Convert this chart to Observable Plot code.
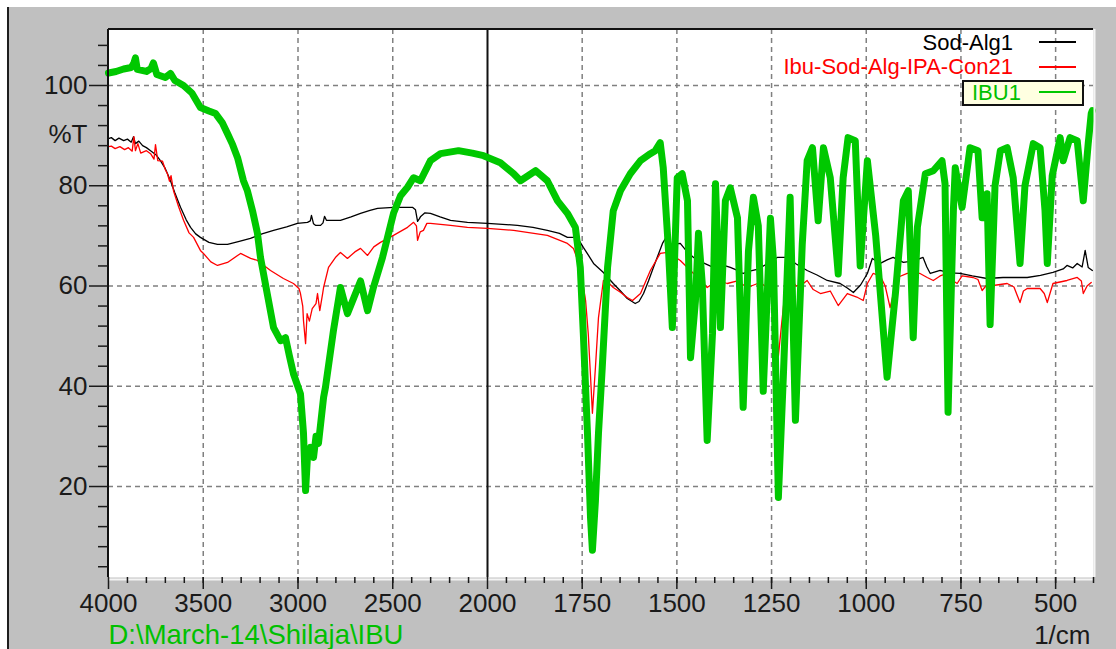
<!DOCTYPE html>
<html><head><meta charset="utf-8">
<script src="https://cdn.jsdelivr.net/npm/d3@7"></script>
<script src="https://cdn.jsdelivr.net/npm/@observablehq/plot@0.6"></script>
<style>
html,body{margin:0;padding:0;background:#fff;width:1116px;height:649px;overflow:hidden;font-family:"Liberation Sans",Arial,sans-serif;}
#panel{position:absolute;left:7px;top:7px;width:1109px;height:642px;background:#c0c0c0;border-left:2px solid #1e1e1e;box-sizing:border-box;}
#chart{position:absolute;left:0;top:0;}
#legend{position:absolute;left:0;top:0;width:1116px;height:649px;pointer-events:none;}
.lg{position:absolute;font-size:22px;line-height:24px;white-space:nowrap;}
.sw{position:absolute;height:2px;}
.box{position:absolute;background:#ffffe1;border:2px solid #111;box-sizing:border-box;}
</style></head><body>
<div id="panel"></div>
<div id="chart"></div>
<div id="legend"></div>
<script>
// ---- scale breaks and ticks ----
const wavenumberBreaks = [4000, 2000, 400];
const xMajorTicks = [4000, 3500, 3000, 2500, 2000, 1750, 1500, 1250, 1000, 750, 500];
const xGridTicks = [3500, 3000, 2500, 1750, 1500, 1250, 1000, 750, 500];
const yMajorTicks = [100, 80, 60, 40, 20];
const yDomain = [1.85, 111.17];
const xMinorTicks = [...d3.range(3900, 2000, -100), ...d3.range(1950, 399, -50)];
const yMinorTicks = d3.range(4, 112, 4).filter(v => v % 20 !== 0);

// ---- series ----
const seriesNames = ["Sod-Alg1", "Ibu-Sod-Alg-IPA-Con21", "IBU1"];
const seriesColors = ["#000000", "#ff0000", "#00c800"];

const sodAlg1 = [[4000,89.4],[3985,89.6],[3965,89.0],[3945,89.5],[3920,89.0],[3900,89.3],[3880,88.7],[3868,89.8],[3858,88.4],[3840,88.9],[3820,88.0],[3800,87.6],[3778,87.0],[3750,86.2],[3726,85.0],[3700,83.4],[3673,81.0],[3650,78.6],[3620,75.7],[3590,73.2],[3567,71.7],[3540,70.4],[3515,69.7],[3470,68.7],[3425,68.3],[3372,68.3],[3310,68.9],[3251,69.5],[3190,70.4],[3129,71.1],[3060,71.8],[3003,72.5],[2950,72.7],[2935,73.0],[2929,74.1],[2918,72.4],[2908,72.1],[2881,72.1],[2868,72.6],[2860,73.9],[2850,73.1],[2776,73.1],[2720,73.8],[2670,74.5],[2620,75.1],[2580,75.5],[2496,75.7],[2396,75.7],[2380,75.2],[2369,72.9],[2360,73.4],[2354,73.8],[2330,74.6],[2301,74.5],[2250,73.8],[2195,73.1],[2106,72.7],[2000,72.5],[1921,72.1],[1880,71.7],[1842,71.1],[1810,70.5],[1789,69.7],[1763,69.7],[1747,67.7],[1735,66.3],[1720,64.5],[1694,62.7],[1668,60.5],[1650,59.1],[1631,57.5],[1610,56.5],[1600,56.9],[1588,58.5],[1575,61.0],[1562,63.7],[1548,66.5],[1538,68.5],[1530,69.5],[1515,68.3],[1491,68.5],[1475,67.0],[1456,65.7],[1430,64.6],[1404,63.7],[1380,64.2],[1359,63.7],[1340,63.1],[1325,62.5],[1305,63.0],[1288,63.3],[1260,64.5],[1235,65.7],[1208,65.7],[1185,64.4],[1156,63.1],[1130,62.2],[1103,61.1],[1069,60.5],[1050,59.6],[1034,58.7],[1015,60.2],[997,62.5],[984,65.5],[963,64.5],[945,65.2],[929,65.7],[902,64.7],[875,65.0],[850,65.7],[840,63.8],[831,62.5],[805,63.1],[780,62.6],[752,62.5],[720,62.0],[681,61.5],[639,61.7],[575,61.7],[540,62.1],[507,62.7],[480,63.4],[470,64.1],[455,63.6],[443,64.5],[430,63.8],[422,67.1],[414,63.7],[403,63.1]];

const ibuSodAlgIpaCon21 = [[4000,87.8],[3985,87.9],[3965,87.4],[3940,87.8],[3915,87.2],[3895,87.6],[3875,86.9],[3866,89.8],[3858,87.0],[3845,88.4],[3830,86.5],[3800,87.0],[3778,86.4],[3760,85.3],[3752,88.2],[3740,85.0],[3715,84.9],[3700,83.2],[3689,82.4],[3678,80.9],[3670,82.0],[3657,79.0],[3630,75.8],[3604,73.1],[3575,70.6],[3551,69.7],[3515,67.1],[3499,66.5],[3460,64.8],[3425,64.1],[3372,64.7],[3303,66.5],[3250,65.5],[3214,65.1],[3145,63.1],[3077,61.5],[3024,60.5],[2995,59.5],[2987,58.5],[2975,56.0],[2971,53.1],[2960,48.5],[2952,54.5],[2940,53.0],[2925,55.5],[2905,56.5],[2897,58.5],[2885,55.1],[2870,58.5],[2865,59.7],[2839,63.7],[2800,65.8],[2776,66.7],[2739,65.5],[2700,66.8],[2670,67.5],[2633,66.1],[2600,67.8],[2565,68.7],[2496,70.1],[2422,71.7],[2390,72.7],[2375,72.0],[2369,69.1],[2355,70.8],[2338,71.1],[2320,72.5],[2301,72.5],[2195,72.1],[2106,71.7],[2000,71.5],[1931,71.1],[1842,70.1],[1789,68.5],[1773,67.5],[1755,63.7],[1741,57.1],[1734,50.5],[1728,42.0],[1723,34.6],[1715,43.8],[1707,53.7],[1694,61.1],[1680,60.6],[1668,59.7],[1650,58.8],[1631,57.7],[1617,57.1],[1596,58.5],[1570,63.1],[1544,66.5],[1525,66.7],[1505,65.8],[1491,65.1],[1456,62.5],[1435,61.0],[1420,59.7],[1393,61.1],[1367,60.5],[1340,61.0],[1314,59.7],[1280,60.7],[1250,59.0],[1240,55.0],[1232,46.0],[1224,52.0],[1215,58.5],[1201,61.7],[1185,60.0],[1166,60.5],[1156,61.1],[1140,59.3],[1121,58.5],[1095,59.0],[1074,56.1],[1050,58.5],[1025,57.8],[1008,57.1],[997,60.5],[982,62.5],[963,62.0],[950,60.0],[937,55.7],[925,59.5],[918,61.7],[892,62.5],[858,62.5],[839,61.7],[823,61.1],[805,62.0],[786,62.5],[770,61.0],[760,60.5],[747,62.0],[718,61.7],[705,61.3],[694,59.1],[680,60.4],[665,60.1],[628,60.5],[610,59.8],[594,56.7],[585,59.0],[575,59.5],[541,59.5],[530,58.5],[522,56.7],[507,60.5],[470,61.1],[443,61.7],[432,61.0],[427,58.5],[417,60.0],[406,60.7]];

const ibu1 = [[4000,102.5],[3960,102.8],[3920,103.3],[3880,103.6],[3866,104.5],[3858,105.5],[3848,103.2],[3800,102.8],[3775,103.4],[3763,104.5],[3745,102.2],[3700,101.6],[3673,102.4],[3650,101.0],[3604,100.0],[3560,98.5],[3515,95.6],[3470,94.9],[3435,94.4],[3400,92.6],[3372,90.4],[3345,88.2],[3319,85.6],[3288,81.0],[3267,79.0],[3240,75.0],[3214,70.5],[3198,65.7],[3160,58.0],[3129,51.7],[3092,49.1],[3066,49.7],[3045,46.0],[3024,42.5],[2987,38.5],[2971,30.6],[2960,19.2],[2950,26.0],[2934,27.8],[2918,25.8],[2905,30.0],[2892,28.6],[2865,37.8],[2855,39.8],[2813,51.1],[2776,59.7],[2739,54.5],[2670,61.0],[2633,55.1],[2602,59.7],[2554,65.7],[2496,74.5],[2459,78.0],[2422,79.7],[2390,81.6],[2354,81.0],[2301,85.0],[2248,86.4],[2153,87.0],[2080,86.5],[2021,86.0],[1966,84.6],[1931,82.4],[1913,81.0],[1873,83.0],[1842,81.0],[1815,77.0],[1789,74.5],[1768,71.7],[1755,63.7],[1747,50.5],[1736,30.6],[1728,13.8],[1723,7.3],[1715,17.2],[1707,30.6],[1697,43.8],[1683,63.7],[1668,75.0],[1649,79.0],[1623,82.4],[1596,85.0],[1570,86.4],[1557,87.0],[1544,88.6],[1536,83.6],[1522,67.0],[1512,51.7],[1499,81.6],[1486,82.4],[1472,77.0],[1464,45.7],[1451,57.0],[1443,70.5],[1433,60.5],[1420,29.2],[1406,50.5],[1398,80.4],[1385,51.7],[1372,77.0],[1359,79.6],[1340,73.6],[1325,35.8],[1311,67.0],[1298,77.7],[1285,72.0],[1272,39.0],[1253,73.5],[1245,65.0],[1232,17.8],[1219,41.8],[1201,77.7],[1187,33.2],[1169,68.3],[1156,85.0],[1142,87.6],[1127,73.0],[1113,87.6],[1095,81.6],[1074,62.4],[1061,81.6],[1048,89.6],[1029,89.0],[1016,64.0],[997,85.0],[975,70.0],[945,41.8],[923,58.5],[902,77.0],[889,79.0],[876,49.7],[865,71.7],[844,82.4],[823,83.0],[800,85.0],[792,80.4],[784,34.8],[770,75.0],[765,83.6],[747,75.7],[726,87.6],[705,87.0],[694,73.6],[681,78.4],[673,52.3],[660,80.0],[646,87.0],[628,87.6],[612,81.6],[594,64.5],[581,80.0],[559,88.4],[541,87.6],[528,75.0],[522,64.5],[509,82.0],[488,89.6],[480,85.0],[462,89.6],[443,89.0],[427,77.0],[414,88.4],[406,94.4],[403,95.0]];

const fontFamily = '"Liberation Sans", Arial, sans-serif';
const dashed = {stroke: "#808080", strokeOpacity: 1, strokeWidth: 1.5, strokeDasharray: "5,4"};
const plain = d => String(d);

const chart = Plot.plot({
  width: 1116, height: 649,
  marginLeft: 108, marginRight: 23, marginTop: 29, marginBottom: 72,
  style: {background: "transparent", fontFamily, fontSize: "26px", color: "#1a1a1a", overflow: "visible"},
  x: {type: "linear", domain: wavenumberBreaks, range: [108, 487, 1093]},
  y: {domain: yDomain},
  marks: [
    Plot.frame({fill: "white", stroke: null}),
    Plot.gridX(xGridTicks, dashed),
    Plot.gridY(yMajorTicks, dashed),
    Plot.ruleX([wavenumberBreaks[1]], {stroke: "#111", strokeWidth: 2}),
    Plot.line(sodAlg1, {x: d => d[0], y: d => d[1], stroke: seriesColors[0], strokeWidth: 1.3}),
    Plot.line(ibuSodAlgIpaCon21, {x: d => d[0], y: d => d[1], stroke: seriesColors[1], strokeWidth: 1.3}),
    Plot.line(ibu1, {x: d => d[0], y: d => d[1], stroke: seriesColors[2], strokeWidth: 7, strokeLinejoin: "round", strokeLinecap: "round"}),
    Plot.ruleX([wavenumberBreaks[0]], {stroke: "#111", strokeWidth: 2, dx: -0.5}),
    Plot.ruleY([yDomain[1]], {stroke: "#111", strokeWidth: 2, dy: -0.5}),
    Plot.ruleX([wavenumberBreaks[2]], {stroke: "#f4f4f4", strokeWidth: 2, dx: 1}),
    Plot.ruleY([yDomain[0]], {stroke: "#f4f4f4", strokeWidth: 2, dy: 2}),
    Plot.axisY(yMajorTicks, {tickSize: 19, tickPadding: 2, label: null, fontSize: 26, strokeWidth: 1.5, tickFormat: plain}),
    Plot.axisY(yMinorTicks, {tickSize: 10, tickFormat: () => "", label: null, strokeWidth: 1.5}),
    Plot.axisX(xMajorTicks, {tickSize: 12, tickPadding: 4, label: null, fontSize: 26, strokeWidth: 1.5, tickFormat: plain}),
    Plot.axisX(xMinorTicks, {tickSize: 6, tickFormat: () => "", label: null, strokeWidth: 1.5}),
    Plot.text(["%T"], {frameAnchor: "left", y: () => 90.2, text: d => d, textAnchor: "end", dx: -21, fontSize: 26, fill: "#1a1a1a"}),
    Plot.text(["D:\\March-14\\Shilaja\\IBU"], {frameAnchor: "bottom-left", text: d => d, textAnchor: "start", lineAnchor: "middle", dy: 58, fontSize: 27.5, fill: "#00c000"}),
    Plot.text(["1/cm"], {frameAnchor: "bottom-right", text: d => d, textAnchor: "end", lineAnchor: "middle", dx: -3, dy: 58, fontSize: 26, fill: "#1a1a1a"})
  ]
});
document.getElementById("chart").append(chart);

// ---- legend (top right, inside the frame) ----
const legend = document.getElementById("legend");
const rows = [
  {top: 31, textRight: 1116 - 1013, lineTop: 41},
  {top: 55, textRight: 1116 - 1013, lineTop: 66},
  {top: 80, textLeft: 972, lineTop: 91, boxed: true}
];
seriesNames.forEach((name, i) => {
  const r = rows[i];
  if (r.boxed) {
    const b = document.createElement("div");
    b.className = "box";
    Object.assign(b.style, {left: "962px", top: "80px", width: "122px", height: "26px"});
    legend.append(b);
  }
  const t = document.createElement("div");
  t.className = "lg";
  t.textContent = name;
  t.style.color = i === 2 ? "#00c000" : seriesColors[i];
  t.style.top = (r.boxed ? r.top + 1 : r.top) + "px";
  if (r.textRight !== undefined) t.style.right = r.textRight + "px";
  else t.style.left = r.textLeft + "px";
  legend.append(t);
  const s = document.createElement("div");
  s.className = "sw";
  Object.assign(s.style, {left: "1039px", width: "37px", top: r.lineTop + "px", background: seriesColors[i]});
  legend.append(s);
});
</script>
</body></html>
